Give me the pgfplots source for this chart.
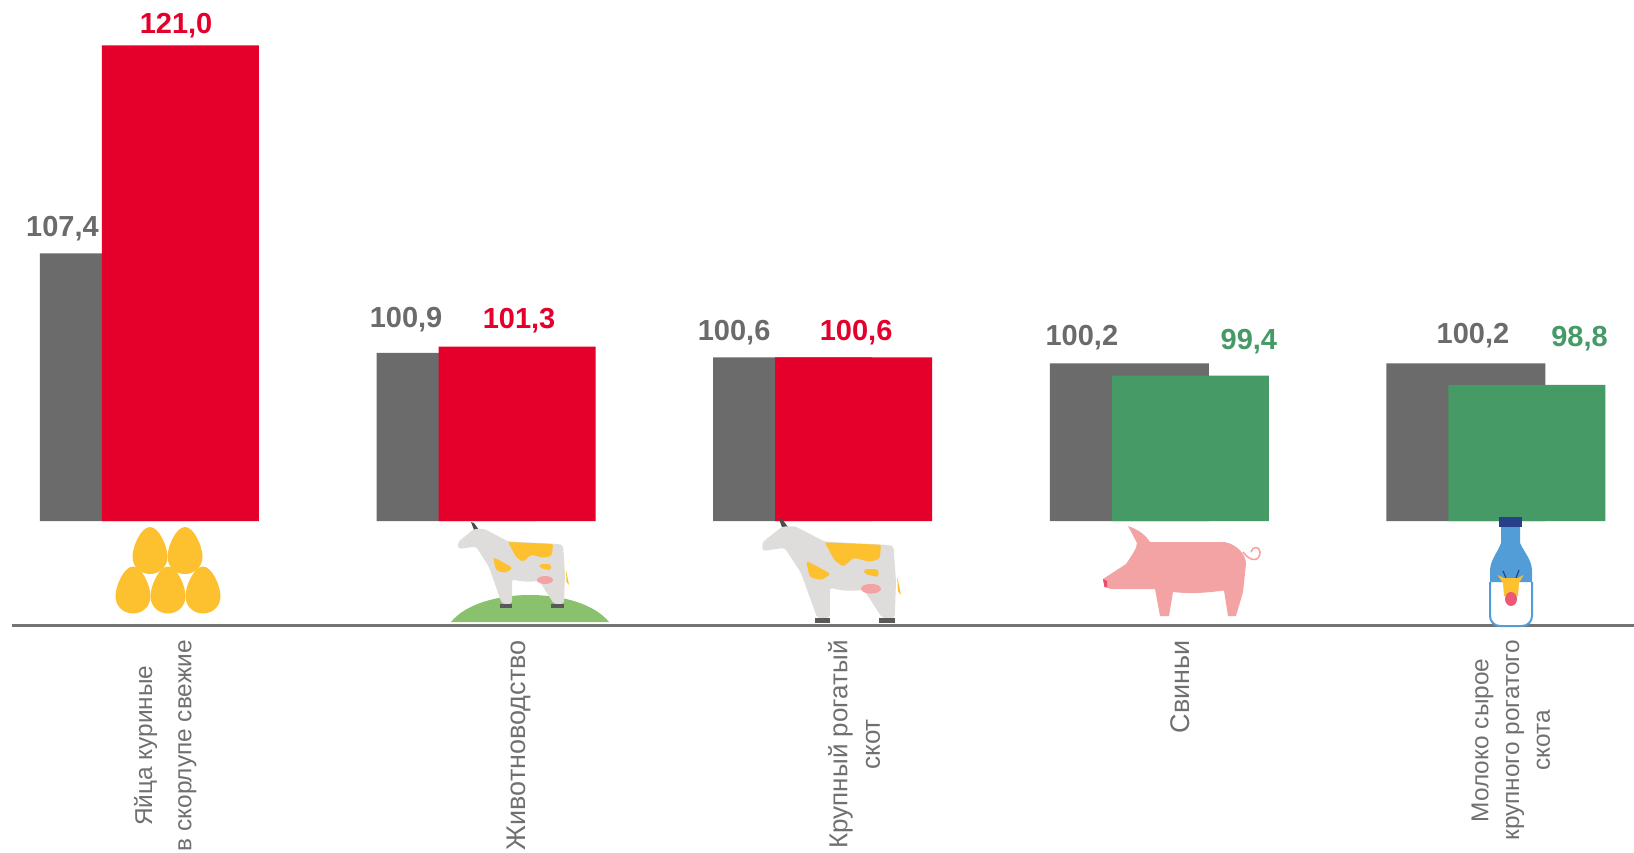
\documentclass[border=0pt]{standalone}
\usepackage{fontspec}
\setmainfont{Liberation Sans}
\usepackage{pgfplots}
\pgfplotsset{compat=1.18}
\usepackage{pgfplotstable}

\definecolor{bargray}{HTML}{6B6B6B}
\definecolor{barred}{HTML}{E4002B}
\definecolor{bargreen}{HTML}{459A66}
\definecolor{labelgray}{HTML}{707070}
\definecolor{eggc}{HTML}{FDC02F}
\definecolor{cowc}{HTML}{DEDDDB}
\definecolor{hillc}{HTML}{8AC16C}
\definecolor{pigc}{HTML}{F4A3A5}
\definecolor{milkc}{HTML}{529DD8}
\definecolor{capc}{HTML}{26418A}

% x, value, label offset from the bar top in pt
\pgfplotstableread{
x y dx dy
0 107.4 -28.5 12.4
1 100.9 -25.0 16.7
2 100.6 -29.3 12.5
3 100.2 -23.7 13.0
4 100.2 3.5 14.0
}\grayseries
\pgfplotstableread{
x y dx dy
0 121.0 -2.2 10.0
1 101.3 1.0 13.0
2 100.6 1.2 12.5
}\redseries
\pgfplotstableread{
x y dx dy
3 99.4 29.3 17.0
4 98.8 26.3 23.0
}\greenseries

\pgfplotsset{
  lbl/.style={
    nodes near coords,
    visualization depends on={\thisrow{dx} \as \dxv},
    visualization depends on={\thisrow{dy} \as \dyv},
    every node near coord/.append style={anchor=center, inner sep=0pt, text=#1,
      xshift=\dxv pt, yshift=\dyv pt, font=\fontsize{14.5}{16}\selectfont\bfseries},
  },
}

\newcommand\smalllbl{\fontsize{12.2}{14.6}\selectfont}
\newcommand\midlbl{\fontsize{13}{15.6}\selectfont}

\tikzset{
  egg/.pic={\fill[eggc] (0,-23.5) .. controls (9,-23.5) and (17.5,-4) .. (17.5,6)
    .. controls (17.5,17) and (9,23.5) .. (0,23.5)
    .. controls (-9,23.5) and (-17.5,17) .. (-17.5,6)
    .. controls (-17.5,-4) and (-9,-23.5) .. (0,-23.5) -- cycle;},
  cow/.pic={
    \fill[black!70] (14,0) -- (17,1) -- (22,8) -- (17,8) -- cycle;
    \fill[cowc, rounded corners=1.5pt] (1,20) -- (1,27) -- (19,24.5) -- (32,45) -- (45,82) -- (55,82) -- (55,57)
      .. controls (65,60) and (75,60) .. (82,58.5) -- (97,82) -- (107,82) -- (108,52)
      -- (106,23) -- (101,22) -- (51,19.4) -- (27,6.7) -- (17,7) -- cycle;
    \fill[eggc, rounded corners=1pt] (51,20) -- (96,22) -- (95,33.5) -- (87,36) -- (74,32.5) -- (66,40) -- (59,35) -- cycle;
    \fill[eggc, rounded corners=1.5pt] (36,35) -- (42,38) -- (56,46) -- (48,51) -- (39,48.5) -- cycle;
    \fill[eggc, rounded corners=1.5pt] (82,42) -- (94,42) -- (94,48.5) -- (83,46) -- cycle;
    \fill[eggc] (109,48) -- (112,63) -- (109.5,60) -- cycle;
    \fill[pigc] (88,58) ellipse (8 and 4);
    \fill[black!65] (43,82) rectangle (55,86);
    \fill[black!65] (94,82) rectangle (107,86);
  },
}

\begin{document}
\begin{tikzpicture}
% keep the page at the size of the frame
\path[use as bounding box] (0pt,-166pt) rectangle (817pt,260pt);
\begin{axis}[
  at={(0pt,-0.5pt)},
  anchor=south west,
  scale only axis,
  width=817pt,
  height=260.5pt,
  xmin=-0.4456,
  xmax=4.4088,
  ymin=89.9,
  ymax=123.97,
  ybar,
  axis y line=none,
  axis x line=bottom,
  axis line style={-},
  x axis line style={draw=black!55, line width=1.5pt, yshift=-52pt, shorten <=6pt},
  xtick={0.045,1.096,2.092,3.06,4.043},
  xticklabels={
    {\smalllbl Яйца куриные\\[3.4pt]\smalllbl в скорлупе свежие},
    {Животноводство},
    {\midlbl Крупный рогатый\\\midlbl скот},
    {Свиньи},
    {\smalllbl Молоко сырое\\[-0.8pt]\smalllbl крупного рогатого\\[-0.8pt]\smalllbl скота}},
  xtick style={draw=none},
  major tick length=0pt,
  xticklabel style={yshift=-59.5pt, rotate=90, anchor=east, align=center, inner sep=0pt,
    font=\fontsize{13.5}{16.2}\selectfont, text=labelgray},
  /pgf/number format/fixed,
  /pgf/number format/fixed zerofill,
  /pgf/number format/precision=1,
  /pgf/number format/use comma,
  /pgf/number format/assume math mode=true,
]
\addplot[draw=none, fill=bargray, bar width=79.5pt, bar shift=-15.25pt, lbl=bargray]
  table[x=x, y=y] {\grayseries};
\addplot[draw=none, fill=barred, bar width=78.5pt, bar shift=15.25pt, lbl=barred]
  table[x=x, y=y] {\redseries};
\addplot[draw=none, fill=bargreen, bar width=78.5pt, bar shift=15.25pt, lbl=bargreen]
  table[x=x, y=y] {\greenseries};
\end{axis}

% picture icons, in pixels of the 1634x852 frame, y going down
\begin{scope}[shift={(0pt,260pt)}, x=0.5pt, y=-0.5pt]
  \foreach \ex/\ey in {150/550.5,185/550.5,133/590,168/590,203/590}
    \pic at (\ex,\ey) {egg};
  \fill[hillc] (451,622) .. controls (480,586) and (580,586) .. (609,622) -- cycle;
  \pic at (457,522) {cow};
  \pic[xscale=1.25, yscale=1.22] at (761,518) {cow};
  % pig
  \draw[pigc, line width=0.8pt] (1243,552) .. controls (1250,562) and (1260,562) .. (1260,552)
    .. controls (1260,546) and (1252,546) .. (1251,552);
  \fill[pigc] (1128,526) .. controls (1140,530) and (1146,536) .. (1150,542) -- (1225,542)
    .. controls (1238,545) and (1246,555) .. (1246,564) -- (1243,592) -- (1236,616) -- (1228,616)
    -- (1224,590.5) .. controls (1205,593) and (1190,594) .. (1173,592) -- (1169,616) -- (1160,616)
    -- (1155,589) -- (1111,589) -- (1104.5,587) -- (1103,579) -- (1126,564)
    .. controls (1132,555) and (1137,548) .. (1137,543) -- cycle;
  \fill[barred!70] (1103,579) -- (1107,581) -- (1107,587) -- (1104.5,587) -- cycle;
  % milk bottle
  \fill[white, rounded corners=5pt] (1490,582) -- (1490,626) -- (1532,626) -- (1532,582) -- cycle;
  \draw[milkc, line width=1pt, rounded corners=5pt] (1490,582) -- (1490,626) -- (1532,626) -- (1532,582);
  \fill[milkc] (1501,527) -- (1520,527) -- (1520,543) .. controls (1524,552) and (1532,560) .. (1532,571)
    -- (1532,582) -- (1490,582) -- (1490,571) .. controls (1490,560) and (1498,552) .. (1501,543) -- cycle;
  \fill[capc] (1499,516.5) rectangle (1522,527);
  \draw[capc, line width=0.6pt] (1503,571) -- (1506,578) (1519,570) -- (1516,578);
  \fill[eggc] (1497.5,575) -- (1504,578) -- (1518,578) -- (1523.5,575) -- (1519,583) -- (1518,596) -- (1504,596) -- (1503,583) -- cycle;
  \fill[barred!65] (1511,599) ellipse (6 and 7);
\end{scope}
\end{tikzpicture}
\end{document}
